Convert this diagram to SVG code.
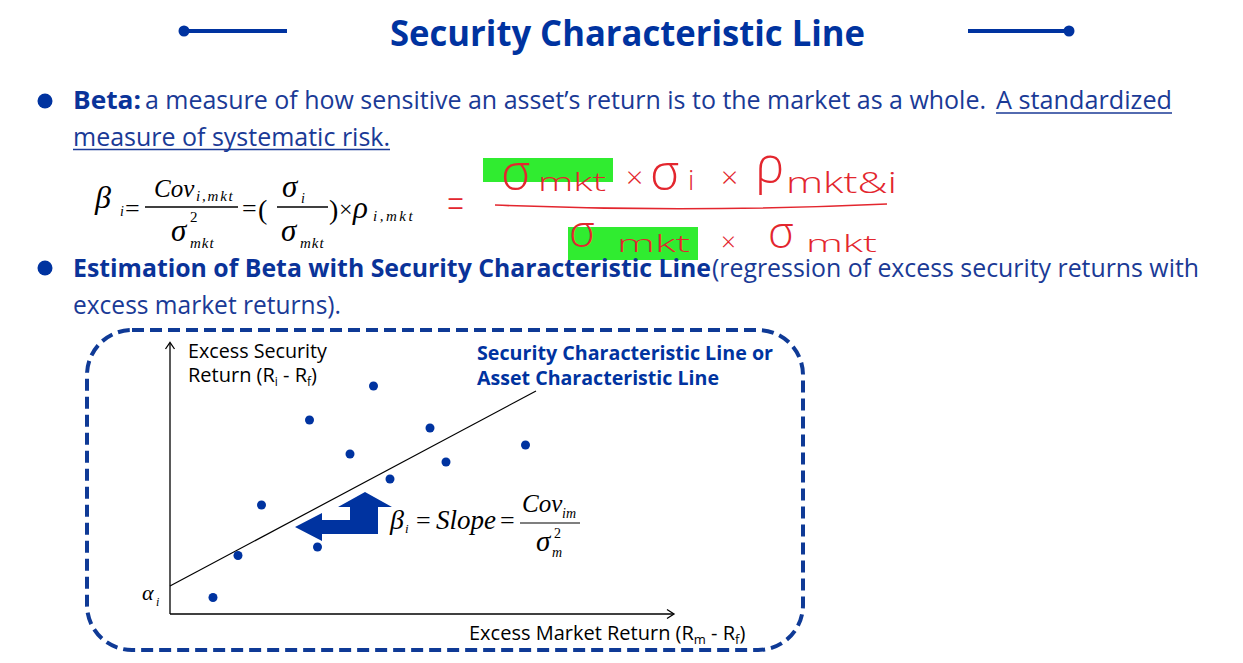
<svg xmlns="http://www.w3.org/2000/svg" width="1243" height="663" viewBox="0 0 1243 663">
<style>
.ui{font-family:"Open Sans","Noto Sans","Liberation Sans",sans-serif;}
.title{font-size:35px;font-weight:bold;fill:#0033a0;}
.body{font-size:25px;fill:#1a3a96;}
.bold{font-weight:bold;fill:#0a3399;}
.math{font-family:"Liberation Serif","Times New Roman",serif;font-style:italic;font-weight:normal;fill:#000;}
.up{font-style:normal;}
.ink{font-family:"Open Sans","Noto Sans",sans-serif;font-weight:300;fill:#e3262e;}
.ax{font-size:20px;fill:#000;}
.lbl{font-size:19px;font-weight:bold;fill:#0033a0;}
.dot{fill:#0033a0;}
.deco{stroke:#0033a0;stroke-width:4;}
</style>
<rect width="1243" height="663" fill="#ffffff"/>

<g id="title">
  <line class="deco" x1="184" y1="31" x2="287" y2="31"/>
  <circle cx="184" cy="31" r="5.5" fill="#0033a0"/>
  <line class="deco" x1="968" y1="31" x2="1069" y2="31"/>
  <circle cx="1069" cy="31" r="5.5" fill="#0033a0"/>
  <text class="ui title" x="390" y="46" textLength="475" lengthAdjust="spacingAndGlyphs">Security Characteristic Line</text>
</g>

<g id="bullet-beta">
  <circle cx="45" cy="101" r="7.5" fill="#0033a0"/>
  <text class="ui body bold" x="73" y="109" textLength="68" lengthAdjust="spacingAndGlyphs">Beta:</text>
  <text class="ui body" x="145" y="109" textLength="841" lengthAdjust="spacingAndGlyphs">a measure of how sensitive an asset’s return is to the market as a whole.</text>
  <text class="ui body" x="996" y="109" textLength="176" lengthAdjust="spacingAndGlyphs">A standardized</text>
  <line x1="996" y1="113" x2="1172" y2="113" stroke="#1a3a96" stroke-width="1.6"/>
  <text class="ui body" x="73" y="145.5" textLength="317" lengthAdjust="spacingAndGlyphs">measure of systematic risk.</text>
  <line x1="73" y1="149.5" x2="390" y2="149.5" stroke="#1a3a96" stroke-width="1.6"/>
</g>

<g id="beta-formula">
  <text class="math" x="95" y="208" font-size="32">β<tspan x="120" y="216" font-size="14">i</tspan><tspan class="up" x="125" y="217" font-size="26">=</tspan></text>
  <text class="math" x="154" y="197" font-size="25">Cov<tspan x="196" y="201" font-size="15" letter-spacing="1.8">i,mkt</tspan></text>
  <line x1="145" y1="207" x2="238" y2="207" stroke="#000" stroke-width="1.3"/>
  <text class="math" x="171" y="241" font-size="31">σ<tspan class="up" x="190" y="222" font-size="15">2</tspan><tspan x="190" y="248" font-size="15" letter-spacing="1">mkt</tspan></text>
  <text class="math up" x="242" y="217" font-size="26">=<tspan x="258" y="219" font-size="28">(</tspan></text>
  <text class="math" x="282" y="197" font-size="31">σ<tspan x="301" y="203" font-size="14">i</tspan></text>
  <line x1="277" y1="207" x2="328" y2="207" stroke="#000" stroke-width="1.3"/>
  <text class="math" x="281" y="241" font-size="31">σ<tspan x="300" y="248" font-size="15" letter-spacing="1">mkt</tspan></text>
  <text class="math up" x="329" y="219" font-size="28">)<tspan x="339" y="217" font-size="24">×</tspan></text>
  <text class="math" x="353" y="218" font-size="31">ρ<tspan x="373" y="221" font-size="15" letter-spacing="2.5">i,mkt</tspan></text>
</g>

<g id="handwritten-note">
  <rect x="483" y="158" width="130" height="24" fill="#30ec30"/>
  <rect x="568" y="227" width="130" height="33" fill="#30ec30"/>
  <text class="ink" font-size="30" transform="translate(447,219) scale(1,1.5)">=</text>
  <path d="M495,205 Q690,213 887,204" fill="none" stroke="#e3262e" stroke-width="1.6"/>
  <text class="ink" x="501" y="190" font-size="50">σ<tspan x="626" y="188" font-size="30">×</tspan><tspan x="650" y="190">σ</tspan><tspan x="688" y="190" font-size="28">i</tspan><tspan x="721" y="188" font-size="30">×</tspan><tspan x="755" y="183">ρ</tspan></text>
  <text class="ink" x="538" y="191" font-size="26" textLength="68" lengthAdjust="spacingAndGlyphs">mkt</text>
  <text class="ink" x="786" y="193" font-size="30" textLength="111" lengthAdjust="spacingAndGlyphs">mkt&amp;i</text>
  <text class="ink" x="569" y="247" font-size="44">σ<tspan x="721" y="251" font-size="26">×</tspan><tspan x="768" y="248">σ</tspan></text>
  <text class="ink" x="617" y="252" font-size="24" textLength="73" lengthAdjust="spacingAndGlyphs">mkt</text>
  <text class="ink" x="806" y="252" font-size="24" textLength="71" lengthAdjust="spacingAndGlyphs">mkt</text>
</g>

<g id="bullet-estimation">
  <circle cx="45" cy="268" r="7.5" fill="#0033a0"/>
  <text class="ui body bold" x="73" y="277" textLength="638" lengthAdjust="spacingAndGlyphs">Estimation of Beta with Security Characteristic Line</text>
  <text class="ui body" x="712" y="277" textLength="487" lengthAdjust="spacingAndGlyphs">(regression of excess security returns with</text>
  <text class="ui body" x="73" y="314" textLength="268" lengthAdjust="spacingAndGlyphs">excess market returns).</text>
</g>

<g id="chart-frame">
  <rect x="87" y="330" width="716" height="320" rx="45" ry="45" fill="none" stroke="#0f3a96" stroke-width="4" stroke-dasharray="12 6"/>
</g>

<g id="connectors">
  <line x1="170" y1="614" x2="170" y2="343" stroke="#000" stroke-width="1.3"/>
  <polyline points="165.5,349 170,342.5 174.5,349" fill="none" stroke="#000" stroke-width="1.3"/>
  <line x1="170" y1="614" x2="673" y2="614" stroke="#000" stroke-width="1.3"/>
  <polyline points="667,609.5 674,614 667,618.5" fill="none" stroke="#000" stroke-width="1.3"/>
  <line x1="170" y1="586" x2="536" y2="391" stroke="#000" stroke-width="1.2"/>
  <polygon points="365,492 392,507 378,507 378,534 322,534 322,541 295,527 322,513 322,520 350,520 350,507 338,507" fill="#0033a0"/>
</g>

<g id="axis-labels">
  <text class="ui ax" x="188" y="358" textLength="139" lengthAdjust="spacingAndGlyphs">Excess Security</text>
  <text class="ui ax" x="188" y="382">Return (R<tspan font-size="12" dy="4">i</tspan><tspan dy="-4"> - R</tspan><tspan font-size="12" dy="4">f</tspan><tspan dy="-4">)</tspan></text>
  <text class="ui ax" x="469" y="640">Excess Market Return (R<tspan font-size="13" dy="4">m</tspan><tspan dy="-4"> - R</tspan><tspan font-size="13" dy="4">f</tspan><tspan dy="-4">)</tspan></text>
  <text class="math" x="142" y="600" font-size="22">α<tspan x="156" y="606" font-size="12">i</tspan></text>
</g>

<g id="line-label">
  <text class="ui lbl" x="477" y="360" textLength="296" lengthAdjust="spacingAndGlyphs">Security Characteristic Line or</text>
  <text class="ui lbl" x="477" y="385" textLength="242" lengthAdjust="spacingAndGlyphs">Asset Characteristic Line</text>
</g>

<g id="data-points">
  <circle class="dot" cx="213" cy="597.5" r="4.5"/>
  <circle class="dot" cx="238" cy="555.5" r="4.5"/>
  <circle class="dot" cx="261.5" cy="505" r="4.5"/>
  <circle class="dot" cx="317.5" cy="547" r="4.5"/>
  <circle class="dot" cx="309.5" cy="420" r="4.5"/>
  <circle class="dot" cx="350" cy="454" r="4.5"/>
  <circle class="dot" cx="373.5" cy="386" r="4.5"/>
  <circle class="dot" cx="390" cy="479" r="4.5"/>
  <circle class="dot" cx="430" cy="428" r="4.5"/>
  <circle class="dot" cx="446" cy="462" r="4.5"/>
  <circle class="dot" cx="525.5" cy="445" r="4.5"/>
</g>

<g id="slope-formula">
  <text class="math" x="390" y="529" font-size="28">β<tspan x="405" y="533" font-size="13">i</tspan><tspan class="up" x="416" y="529" font-size="26">=</tspan><tspan x="436" y="529" font-size="27">Slope</tspan><tspan class="up" x="500" y="529" font-size="26">=</tspan></text>
  <text class="math" x="522" y="512" font-size="25">Cov<tspan x="562" y="518" font-size="14">im</tspan></text>
  <line x1="520" y1="523" x2="580" y2="523" stroke="#000" stroke-width="1.2"/>
  <text class="math" x="536" y="551" font-size="29">σ<tspan class="up" x="554" y="538" font-size="14">2</tspan><tspan x="552" y="557" font-size="14">m</tspan></text>
</g>
</svg>
